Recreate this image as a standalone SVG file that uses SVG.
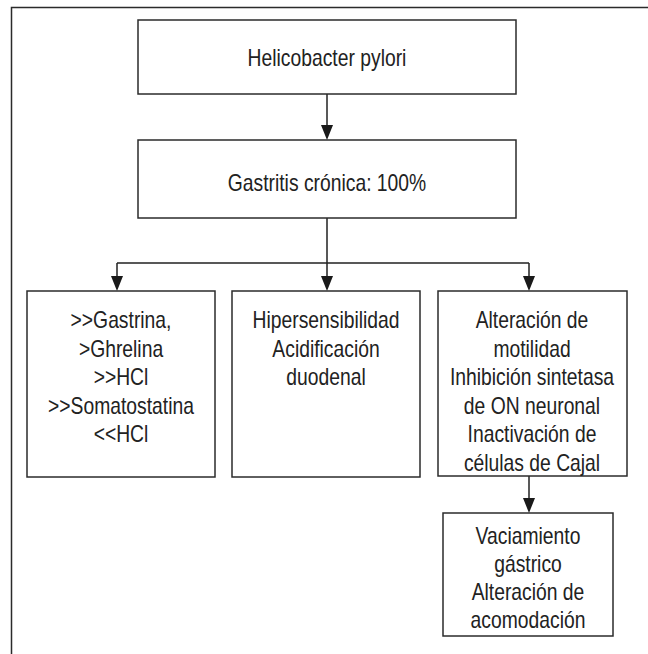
<svg xmlns="http://www.w3.org/2000/svg" width="648" height="654" viewBox="0 0 648 654">
<defs>
<style>
.box{fill:#fff;stroke:#2b2b2b;stroke-width:1.5}
.frame{fill:none;stroke:#2b2b2b;stroke-width:1.5}
.con{fill:none;stroke:#222;stroke-width:1.5}
text{font-family:"Liberation Sans",Arial,Helvetica,sans-serif;font-size:23px;fill:#222;text-anchor:middle}
</style>
</defs>
<rect width="648" height="654" fill="#fff"/>
<path class="frame" d="M11.5,654 V7.5 H648"/>
<g id="connectors">
<path class="con" d="M327,94 V125" />
<path d="M321,125 L333,125 L327,140 Z" fill="#1a1a1a"/>
<path class="con" d="M327,218 V263 M117,263 H529 M117,263 V276 M327,263 V276 M529,263 V276"/>
<path d="M111,276 L123,276 L117,291 Z" fill="#1a1a1a"/>
<path d="M321,276 L333,276 L327,291 Z" fill="#1a1a1a"/>
<path d="M523,276 L535,276 L529,291 Z" fill="#1a1a1a"/>
<path class="con" d="M529,476 V498"/>
<path d="M523,498 L535,498 L529,513 Z" fill="#1a1a1a"/>
</g>
<g id="n_hp">
<rect class="box" x="138" y="20" width="378" height="74"/>
<text transform="translate(327,65.5) scale(0.84,1)">Helicobacter pylori</text>
</g>
<g id="n_gastritis">
<rect class="box" x="138" y="140" width="378" height="78"/>
<text transform="translate(327,191) scale(0.84,1)">Gastritis crónica: 100%</text>
</g>
<g id="n_hormonas">
<rect class="box" x="27" y="291" width="188" height="186"/>
<text transform="translate(121,328) scale(0.84,1)">&gt;&gt;Gastrina,</text>
<text transform="translate(121,356.5) scale(0.84,1)">&gt;Ghrelina</text>
<text transform="translate(121,385) scale(0.84,1)">&gt;&gt;HCl</text>
<text transform="translate(121,413.5) scale(0.84,1)">&gt;&gt;Somatostatina</text>
<text transform="translate(121,442) scale(0.84,1)">&lt;&lt;HCl</text>
</g>
<g id="n_hipersens">
<rect class="box" x="232" y="291" width="188" height="186"/>
<text transform="translate(326,328) scale(0.84,1)">Hipersensibilidad</text>
<text transform="translate(326,356.5) scale(0.84,1)">Acidificación</text>
<text transform="translate(326,385) scale(0.84,1)">duodenal</text>
</g>
<g id="n_motilidad">
<rect class="box" x="438" y="291" width="189" height="185"/>
<text transform="translate(532,328) scale(0.84,1)">Alteración de</text>
<text transform="translate(532,356.5) scale(0.84,1)">motilidad</text>
<text transform="translate(532,385) scale(0.84,1)">Inhibición sintetasa</text>
<text transform="translate(532,413.5) scale(0.84,1)">de ON neuronal</text>
<text transform="translate(532,442) scale(0.84,1)">Inactivación de</text>
<text transform="translate(532,470.5) scale(0.84,1)">células de Cajal</text>
</g>
<g id="n_vaciamiento">
<rect class="box" x="443" y="513" width="170" height="123"/>
<text transform="translate(528,543.5) scale(0.84,1)">Vaciamiento</text>
<text transform="translate(528,571.5) scale(0.84,1)">gástrico</text>
<text transform="translate(528,599.5) scale(0.84,1)">Alteración de</text>
<text transform="translate(528,627.5) scale(0.84,1)">acomodación</text>
</g>
</svg>
